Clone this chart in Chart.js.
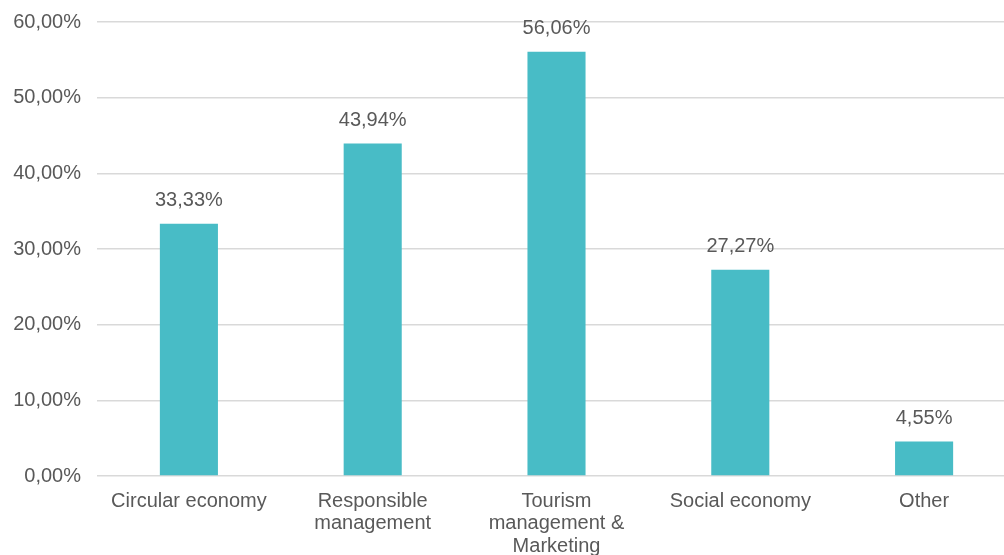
<!DOCTYPE html>
<html>
<head>
<meta charset="utf-8">
<script src="https://cdn.jsdelivr.net/npm/chart.js@4/dist/chart.umd.min.js"></script>
<style>
  html, body { margin: 0; padding: 0; background: #fff; overflow: hidden; }
  #wrap { position: relative; top: -6px; width: 1016px; height: 561px; }
</style>
</head>
<body>
<div id="wrap"><canvas id="myChart"></canvas></div>
<script>
  const categories = [
    ['Circular economy'],
    ['Responsible', 'management'],
    ['Tourism', 'management &', 'Marketing'],
    ['Social economy'],
    ['Other']
  ];
  const shares = [33.33, 43.94, 56.06, 27.27, 4.55];
  const yTicks = [0, 10, 20, 30, 40, 50, 60];

  const textColor = '#595959';
  const font = { family: '"Liberation Sans", Arial, sans-serif', size: 20 };

  function pct(v){
    return v.toFixed(2).replace('.', ',') + '%';
  }

  // value labels on top of each bar
  const barLabels = {
    id: 'barLabels',
    afterDatasetsDraw(chart){
      const ctx = chart.ctx;
      ctx.save();
      ctx.font = font.size + 'px ' + font.family;
      ctx.fillStyle = textColor;
      ctx.textAlign = 'center';
      ctx.textBaseline = 'middle';
      chart.getDatasetMeta(0).data.forEach((bar, i) => {
        ctx.fillText(pct(shares[i]), bar.x, bar.y - 23);
      });
      ctx.restore();
    }
  };

  const config = {
    type: 'bar',
    data: {
      labels: categories,
      datasets: [{
        data: shares,
        backgroundColor: '#48bcc6',
        barPercentage: 0.316,
        categoryPercentage: 1
      }]
    },
    options: {
      animation: false,
      responsive: true,
      maintainAspectRatio: false,
      layout: { padding: { left: 13, top: 4, right: 0, bottom: 0 } },
      plugins: {
        legend: { display: false },
        tooltip: { enabled: false }
      },
      scales: {
        x: {
          grid: { display: false, drawTicks: false },
          border: { display: false },
          afterFit(axis){ axis.height = 79; },
          ticks: {
            color: textColor,
            font: { family: font.family, size: font.size, lineHeight: 1.125 },
            padding: 14,
            maxRotation: 0,
            autoSkip: false
          }
        },
        y: {
          min: 0,
          max: 60,
          afterBuildTicks(axis){
            axis.ticks = yTicks.map(v => ({ value: v }));
          },
          afterFit(axis){ axis.width = 84; },
          grid: { color: '#d9d9d9', lineWidth: 1.5, drawTicks: false },
          border: { display: false },
          ticks: {
            color: textColor,
            font: { family: font.family, size: font.size },
            padding: 16,
            callback: v => pct(v)
          }
        }
      }
    },
    plugins: [barLabels]
  };

  let myChart = new Chart(document.getElementById('myChart'), config);
</script>
</body>
</html>
